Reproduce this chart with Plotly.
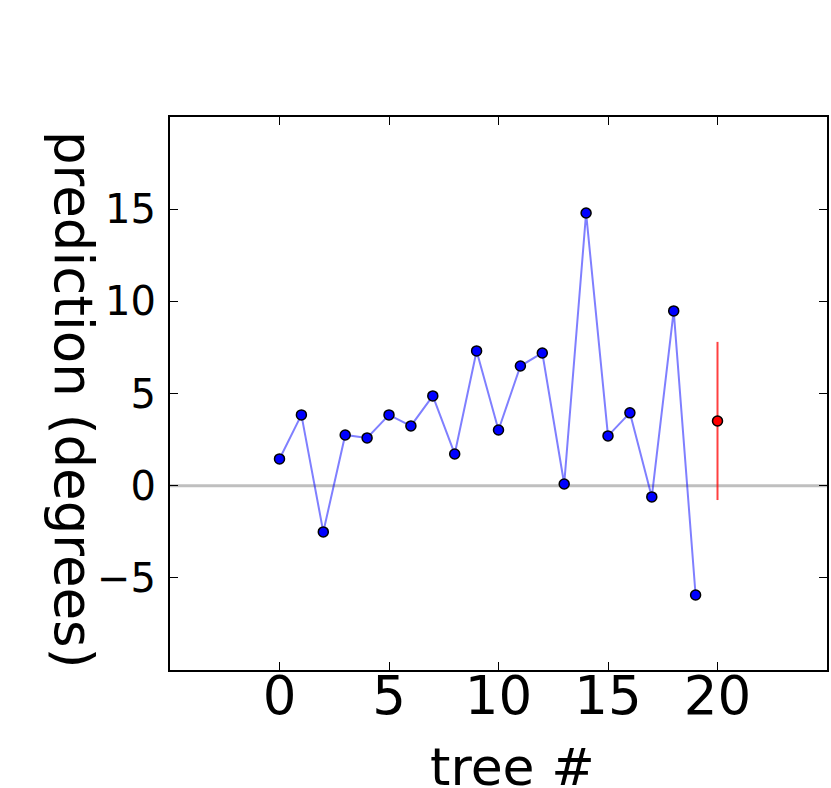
import plotly.graph_objects as go

# predictions of the individual trees (degrees)
tree_idx = list(range(20))
tree_pred = [1.45, 3.84, -2.51, 2.75, 2.59, 3.84, 3.24, 4.87, 1.72, 7.31,
             3.02, 6.49, 7.20, 0.09, 14.79, 2.70, 3.95, -0.61, 9.48, -5.93]

# forest prediction with its spread
forest_x = [20]
forest_mean = [3.51]
forest_err = [4.29]

xticks = [0, 5, 10, 15, 20]
yticks = [-5, 0, 5, 10, 15]

FONT = "DejaVu Sans"

fig = go.Figure()

fig.add_trace(go.Scatter(
    x=tree_idx,
    y=tree_pred,
    mode='lines+markers',
    line=dict(color='rgba(0,0,255,0.5)', width=2),
    marker=dict(color='blue', size=10, line=dict(color='black', width=1.5)),
    showlegend=False
))

fig.add_trace(go.Scatter(
    x=forest_x,
    y=forest_mean,
    mode='markers',
    marker=dict(color='red', size=10, line=dict(color='black', width=1.5)),
    error_y=dict(type='data', array=forest_err, visible=True,
                 color='rgba(255,0,0,0.75)', thickness=2, width=0),
    showlegend=False
))

# zero reference line across the whole axes
fig.add_shape(type='line', xref='paper', yref='y', x0=0, x1=1, y0=0, y1=0,
              line=dict(color='rgba(0,0,0,0.25)', width=3), layer='below')

axis_style = dict(
    showgrid=False,
    zeroline=False,
    showline=True,
    linecolor='black',
    linewidth=2,
    mirror='allticks',
    ticks='inside',
    ticklen=8,
    tickwidth=1,
    tickcolor='black',
)

fig.update_xaxes(range=[-5, 25], tickvals=xticks,
                 tickfont=dict(family=FONT, size=53, color='black'),
                 ticklabelstandoff=-22, **axis_style)
fig.update_yaxes(range=[-10, 20], tickvals=yticks,
                 tickfont=dict(family=FONT, size=40, color='black'),
                 ticklabelstandoff=4, **axis_style)

fig.add_annotation(text='tree #', xref='paper', yref='paper',
                   x=0.522, y=-0.118, xanchor='center', yanchor='top',
                   showarrow=False, font=dict(family=FONT, size=52, color='black'))
fig.add_annotation(text='prediction (degrees)', xref='paper', yref='paper',
                   x=-0.146, y=0.49, xanchor='center', yanchor='middle',
                   textangle=90, showarrow=False,
                   font=dict(family=FONT, size=53, color='black'))

fig.update_layout(
    width=831,
    height=788,
    margin=dict(l=170, r=2, t=117, b=118),
    plot_bgcolor='white',
    paper_bgcolor='white',
    font=dict(family=FONT, color='black'),
)

# drop the default page margin so the figure sits at the window corner
fig.write_html("out.html",
               config={'displayModeBar': False},
               post_script="document.body.style.margin='0';"
                           "document.body.style.overflow='hidden';")
